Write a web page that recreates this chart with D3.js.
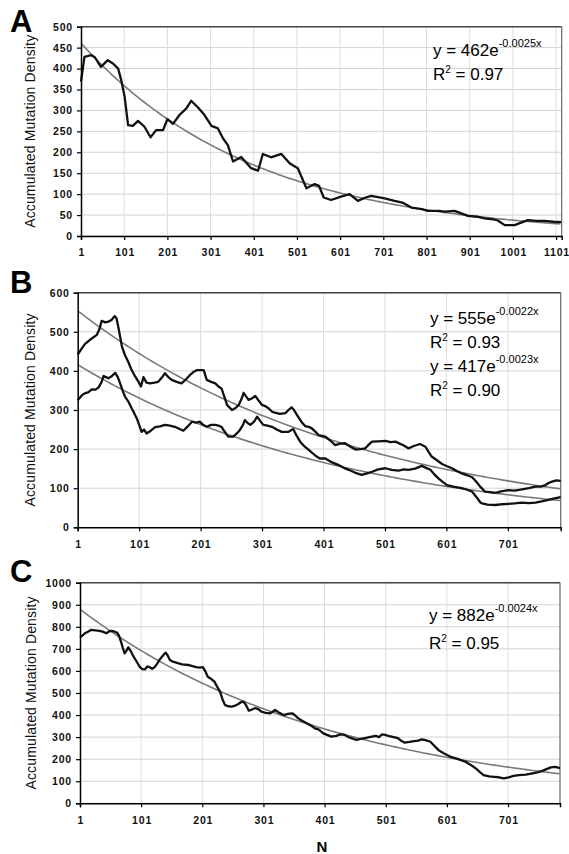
<!DOCTYPE html>
<html>
<head>
<script src="https://d3js.org/d3.v7.min.js"></script>
<style>
  body { margin: 0; background: #fff; }
  text { font-family: Arial, "Liberation Sans", Helvetica, sans-serif; }
</style>
</head>
<body>
<script>
// ---- panel A ----
var aN = [1,9,25,33,47,63,75,87,94,102,110,121,133,148,162,175,191,201,214,229,245,256,272,287,303,318,330,341,353,372,395,411,422,441,465,484,503,523,542,552,563,580,603,623,642,660,673,704,727,745,766,790,804,830,843,866,897,918,935,955,966,982,1005,1020,1036,1055,1074,1095,1113];
var aVal = [369,428,432,427,404,420,412,400,373,333,265,263,275,261,236,253,253,279,268,289,305,323,307,289,263,257,233,217,178,189,162,156,196,188,196,174,162,114,124,120,92,86,94,100,84,92,96,90,84,80,68,64,60,60,58,60,48,46,42,40,37,26,26,32,38,36,36,34,33];
var aFit = [462, -0.0025];
var aEq = ["y = 462e", "-0.0025x", "0.97"];

// ---- panel B ----
var bN1 = [1,8,13,20,24,32,36,40,46,51,56,61,64,67,73,78,83,88,94,100,104,108,113,119,126,132,138,143,148,154,162,170,177,184,190,195,206,211,218,225,230,235,240,244,252,258,263,268,271,275,279,285,290,295,301,306,312,317,322,330,339,344,349,353,358,365,371,377,382,388,393,404,412,420,428,436,445,453,461,469,475,480,490,502,510,518,525,531,539,548,558,567,572,577,585,594,602,610,618,626,635,643,650,656,664,672,681,690,702,712,724,735,746,755,762,768,773,780,787];
var bVal1 = [442,458,469,478,483,492,505,528,524,526,530,540,535,513,462,440,424,405,387,372,360,384,370,368,370,372,383,394,385,377,372,368,378,390,398,402,402,377,372,368,360,355,332,313,300,305,313,330,344,335,326,330,336,325,313,310,304,296,293,290,292,300,307,300,287,270,259,257,253,244,236,232,222,210,214,215,206,199,200,202,212,219,220,221,218,219,214,210,202,208,213,206,193,181,172,162,156,151,144,138,133,128,116,104,91,90,88,92,95,94,97,100,104,104,108,114,117,120,119];
var bN2 = [1,8,13,18,24,30,35,40,43,47,51,56,62,66,70,74,78,84,89,93,97,101,105,109,113,120,127,135,143,151,159,166,173,180,187,194,200,205,211,218,225,230,235,240,246,254,260,265,270,273,278,282,288,293,298,303,310,317,325,333,340,344,348,352,357,363,370,377,383,388,395,404,415,426,434,442,452,463,472,480,490,502,512,523,532,539,550,561,568,575,581,588,595,602,612,626,635,643,650,656,659,668,681,692,702,712,724,735,746,756,767,777,787];
var bVal2 = [325,338,343,345,353,352,358,372,387,384,381,386,395,385,368,350,334,320,304,292,279,262,244,250,240,247,256,258,262,260,257,252,247,258,270,268,270,262,257,262,262,260,257,245,232,232,240,249,262,274,266,262,270,283,272,262,260,257,250,244,244,244,248,251,235,219,207,198,190,183,176,176,166,159,152,147,140,134,138,142,148,151,147,145,148,147,150,157,152,147,136,125,116,108,104,100,96,91,77,64,61,58,57,59,60,61,63,62,63,66,70,74,77];
var bFit1 = [555, -0.0022];
var bFit2 = [417, -0.0023];
var bEq1 = ["y = 555e", "-0.0022x", "0.93"];
var bEq2 = ["y = 417e", "-0.0023x", "0.90"];

// ---- panel C ----
var cN = [1,5,9,14,19,26,33,38,44,48,52,57,62,65,68,71,74,77,80,84,88,93,99,103,107,111,115,119,123,127,131,136,141,144,148,153,161,168,178,185,191,197,202,206,210,215,221,225,230,234,238,243,249,255,260,264,268,272,277,282,287,292,298,305,312,316,320,327,334,341,348,353,358,365,374,380,385,391,399,405,412,420,427,434,440,446,453,460,467,478,485,490,495,500,507,514,521,527,532,540,547,554,560,566,574,580,587,595,602,609,616,624,631,640,648,655,661,670,678,686,694,702,710,719,730,741,749,757,764,771,778,786];
var cVal = [752,760,771,778,786,784,782,778,771,778,782,779,773,758,733,705,680,692,707,690,668,645,617,608,607,620,617,610,617,632,650,668,683,672,650,642,635,630,627,622,617,615,617,598,574,565,551,530,506,472,446,440,438,443,450,458,461,448,420,425,431,428,415,410,408,415,423,410,400,405,408,398,385,373,359,350,340,335,317,310,302,306,312,310,300,294,287,292,296,302,306,300,312,310,304,300,295,282,275,278,282,284,290,286,279,262,242,228,218,209,204,196,189,174,159,141,128,122,120,118,113,118,124,128,130,136,140,147,155,163,165,160];
var cFit = [882, -0.0024];
var cEq = ["y = 882e", "-0.0024x", "0.95"];

// ---- ticks ----
var xTicksA = [1,101,201,301,401,501,601,701,801,901,1001,1101];
var xTicksBC = [1,101,201,301,401,501,601,701];
var yTicksA = [0,50,100,150,200,250,300,350,400,450,500];
var yTicksB = [0,100,200,300,400,500,600];
var yTicksC = [0,100,200,300,400,500,600,700,800,900,1000];

var width = 569, height = 854;
var svg = d3.select("body").append("svg")
  .attr("width", width)
  .attr("height", height);

function zip(ns, vs) {
  return ns.map(function(n, i) { return [n, vs[i]]; });
}

function drawPanel(p) {
  var x = d3.scaleLinear().domain(p.xDomain).range([p.left, p.right]);
  var y = d3.scaleLinear().domain(p.yDomain).range([p.bottom, p.top]);
  var g = svg.append("g");

  // grid
  g.selectAll(".hg").data(p.yTicks).enter().append("line")
    .attr("x1", p.left).attr("x2", p.right)
    .attr("y1", function(d){ return y(d); }).attr("y2", function(d){ return y(d); })
    .style("stroke", "#d2d2d2").style("stroke-width", 1);
  g.selectAll(".vg").data(p.xTicks.slice(1)).enter().append("line")
    .attr("x1", function(d){ return x(d); }).attr("x2", function(d){ return x(d); })
    .attr("y1", p.top).attr("y2", p.bottom)
    .style("stroke", "#dcdcdc").style("stroke-width", 1);

  // frame top / right
  g.append("line").attr("x1", p.left).attr("x2", p.right).attr("y1", p.top).attr("y2", p.top)
    .style("stroke", "#444").style("stroke-width", 1.5);
  g.append("line").attr("x1", p.right).attr("x2", p.right).attr("y1", p.top).attr("y2", p.bottom)
    .style("stroke", "#666").style("stroke-width", 1.2);

  // fits
  var line = d3.line().x(function(d){ return x(d[0]); }).y(function(d){ return y(d[1]); });
  var steps = d3.range(p.xDomain[0], p.xDomain[1] + 1, 5);
  p.fits.forEach(function(f) {
    g.append("path")
      .attr("d", line(steps.map(function(n){ return [n, f[0] * Math.exp(f[1] * n)]; })))
      .style("fill", "none").style("stroke", "#7a7a7a").style("stroke-width", 1.6);
  });

  // data
  p.series.forEach(function(s) {
    g.append("path")
      .attr("d", line(s))
      .style("fill", "none").style("stroke", "#111").style("stroke-width", 2.3)
      .style("stroke-linejoin", "round");
  });

  // axes
  var ya = d3.axisLeft(y).tickValues(p.yTicks).tickSize(4).tickPadding(4).tickFormat(d3.format("d"));
  var yg = g.append("g").attr("transform", "translate(" + p.left + ",0)").call(ya);
  var xa = d3.axisBottom(x).tickValues(p.xTicks).tickSize(4).tickPadding(9).tickFormat(d3.format("d"));
  var xg = g.append("g").attr("transform", "translate(0," + p.bottom + ")").call(xa);
  [yg, xg].forEach(function(a) {
    a.select(".domain").style("stroke", "#000").style("stroke-width", 1.5);
    a.selectAll(".tick line").style("stroke", "#000").style("stroke-width", 1.2);
    a.selectAll("text").style("font-size", "10.5px").style("font-weight", "bold")
      .style("letter-spacing", "0.8px").style("fill", "#111");
  });
  xg.selectAll("text").attr("dx", "0.4px");

  // y title
  g.append("text")
    .attr("transform", "translate(" + p.titleX + "," + ((p.top + p.bottom) / 2) + ") rotate(-90)")
    .attr("text-anchor", "middle")
    .attr("textLength", 193)
    .style("font-size", "14px").style("fill", "#111")
    .text("Accumulated Mutation Density");

  // panel letter
  g.append("text").attr("x", 10).attr("y", p.letterY)
    .style("font-size", "31px").style("font-weight", "bold").text(p.letter);

  // equations
  p.eqs.forEach(function(e, i) {
    var by = p.eqY + i * p.eqGap * 2;
    var t = g.append("text").attr("x", p.eqX).attr("y", by).style("font-size", "17px").style("fill", "#000");
    t.append("tspan").text(e[0]);
    t.append("tspan").attr("dy", -9).style("font-size", "11px").text(e[1]);
    var r = g.append("text").attr("x", p.eqX).attr("y", by + p.eqGap).style("font-size", "17px").style("fill", "#000");
    r.append("tspan").text("R");
    r.append("tspan").attr("dy", -7).style("font-size", "10px").text("2");
    r.append("tspan").attr("dy", 7).text(" = " + e[2]);
  });
}

drawPanel({
  letter: "A", letterY: 32,
  left: 81, right: 561.7, top: 26.7, bottom: 236,
  xDomain: [1, 1114], yDomain: [0, 500],
  xTicks: xTicksA, yTicks: yTicksA, titleX: 35,
  series: [zip(aN, aVal)], fits: [aFit],
  eqs: [aEq], eqX: 433, eqY: 56, eqGap: 24
});

drawPanel({
  letter: "B", letterY: 293,
  left: 77.7, right: 560.7, top: 292.7, bottom: 527.3,
  xDomain: [1, 787], yDomain: [0, 600],
  xTicks: xTicksBC, yTicks: yTicksB, titleX: 35,
  series: [zip(bN1, bVal1), zip(bN2, bVal2)], fits: [bFit1, bFit2],
  eqs: [bEq1, bEq2], eqX: 430, eqY: 324, eqGap: 24
});

drawPanel({
  letter: "C", letterY: 582,
  left: 80, right: 560, top: 582.7, bottom: 803.3,
  xDomain: [1, 786], yDomain: [0, 1000],
  xTicks: xTicksBC, yTicks: yTicksC, titleX: 36,
  series: [zip(cN, cVal)], fits: [cFit],
  eqs: [cEq], eqX: 429, eqY: 621, eqGap: 28
});

svg.append("text").attr("x", 322).attr("y", 852)
  .attr("text-anchor", "middle")
  .style("font-size", "15px").style("font-weight", "bold")
  .text("N");
</script>
</body>
</html>
